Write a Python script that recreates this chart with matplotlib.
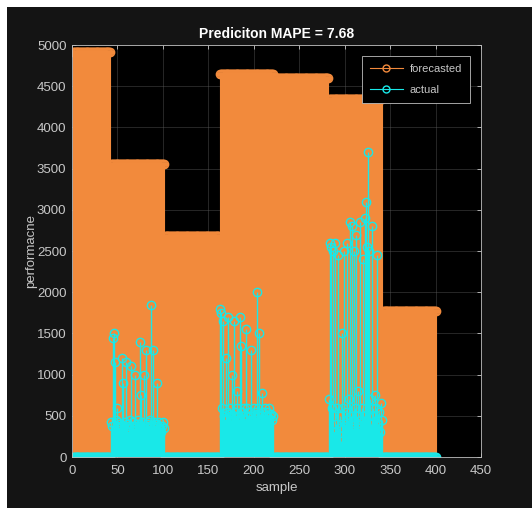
import numpy as np
import matplotlib
matplotlib.use("Agg")
import matplotlib.pyplot as plt
from matplotlib.patches import Rectangle
from matplotlib.lines import Line2D

# ---- data ----
seg_lengths = [42, 59, 61, 59, 61, 59, 59]
forecast_levels = [4920, 3550, 2680, 4650, 4600, 4350, 1770]

actual_seg2 = [420, 380, 1450, 1500, 1150, 450, 380, 600, 420, 350,
               400, 380, 1200, 900, 380, 420, 1150, 350, 400, 300,
               380, 450, 1100, 380, 420, 350, 1000, 380, 300, 400,
               450, 380, 1400, 750, 420, 380, 1000, 350, 1300, 400,
               380, 420, 350, 450, 1850, 380, 1300, 420, 380, 350,
               900, 400, 380, 420, 350, 300, 380, 420, 350]
actual_seg4 = [1800, 1750, 600, 1650, 500, 450, 1200, 550, 480, 1700,
               520, 600, 450, 1000, 500, 1650, 550, 480, 600, 800,
               500, 450, 1700, 1350, 550, 500, 600, 450, 1550, 500,
               600, 480, 550, 500, 1300, 450, 500, 600, 550, 480,
               2000, 520, 600, 1500, 450, 500, 780, 550, 480, 600,
               500, 450, 550, 480, 600, 500, 520, 450, 500]
actual_seg6 = [700, 2600, 2550, 600, 2500, 300, 2600, 400, 250, 600,
               2450, 350, 500, 200, 1500, 600, 2500, 400, 300, 550,
               2600, 450, 700, 2850, 500, 2800, 350, 2500, 600, 400,
               2700, 500, 800, 350, 2850, 450, 600, 2400, 500, 2900,
               3100, 400, 2550, 3700, 2500, 700, 400, 2800, 600, 500,
               750, 350, 600, 2450, 400, 550, 300, 650, 450]

x_ticks = [0, 50, 100, 150, 200, 250, 300, 350, 400, 450]
y_ticks = [0, 500, 1000, 1500, 2000, 2500, 3000, 3500, 4000, 4500, 5000]

# ---- assemble series ----
forecast = np.repeat(forecast_levels, seg_lengths).astype(float)
actual = np.concatenate([
    np.zeros(seg_lengths[0]), actual_seg2,
    np.zeros(seg_lengths[2]), actual_seg4,
    np.zeros(seg_lengths[4]), actual_seg6,
    np.zeros(seg_lengths[6])]).astype(float)
samples = np.arange(1, len(forecast) + 1)

plt.rcParams["font.family"] = ["Liberation Sans", "DejaVu Sans"]

ORANGE = "#f28a3c"
CYAN = "#19e8e8"
TXT = "#c8c8c8"

fig = plt.figure(figsize=(5.32, 5.08), dpi=100)
fig.patch.set_facecolor("white")
fig.patches.append(Rectangle((7 / 532, 0), 1 - 7 / 532, 1 - 7 / 508,
                             transform=fig.transFigure, facecolor="#141414",
                             edgecolor="none", zorder=-10))

ax = fig.add_axes([72 / 532, 51 / 508, 409 / 532, 412 / 508])
ax.set_facecolor("black")
ax.set_axisbelow(True)

m1, s1, b1 = ax.stem(samples, forecast, basefmt=" ")
plt.setp(s1, color=ORANGE, linewidth=0.8)
plt.setp(m1, color=ORANGE, marker="o", markersize=6,
         markerfacecolor="none", markeredgewidth=1.0)

m2, s2, b2 = ax.stem(samples, actual, basefmt=" ")
plt.setp(s2, color=CYAN, linewidth=1.0)
plt.setp(m2, color=CYAN, marker="o", markersize=6,
         markerfacecolor="none", markeredgewidth=1.0)

ax.set_xlim(0, 450)
ax.set_ylim(0, 5000)
ax.set_xticks(x_ticks)
ax.set_yticks(y_ticks)
ax.grid(True, color="#5a5a5a", linewidth=0.5, alpha=0.6, zorder=0)
for sp in ax.spines.values():
    sp.set_color("#bdbdbd")
    sp.set_linewidth(0.6)
    sp.set_zorder(5)
ax.tick_params(direction="in", colors=TXT, labelsize=9.5, length=3,
               top=True, right=True, width=0.6)
ax.tick_params(axis="x", pad=6)
ax.tick_params(axis="y", pad=4)

ax.set_title("Prediciton MAPE = 7.68", color="white", fontsize=10,
             fontweight="bold", pad=5)
ax.set_xlabel("sample", color=TXT, fontsize=9.5, labelpad=3)
ax.set_ylabel("performacne", color=TXT, fontsize=9.5, labelpad=0)

handles = [Line2D([0], [0], color=ORANGE, linewidth=0.8, marker="o",
                  markersize=5, markerfacecolor="none", markevery=[1]),
           Line2D([0], [0], color=CYAN, linewidth=0.8, marker="o",
                  markersize=5, markerfacecolor="none", markevery=[1])]
leg = ax.legend(handles, ["forecasted", "actual"], loc="upper right",
                fontsize=8, frameon=True, fancybox=False,
                borderaxespad=1.0, handlelength=3.0, labelspacing=1.0,
                borderpad=0.7, handletextpad=0.6)
leg.set_zorder(10)
leg.get_frame().set_facecolor("black")
leg.get_frame().set_edgecolor("#bdbdbd")
leg.get_frame().set_linewidth(0.6)
leg.get_frame().set_alpha(1)
for t in leg.get_texts():
    t.set_color(TXT)

fig.savefig("out.png", dpi=100, facecolor=fig.get_facecolor())
